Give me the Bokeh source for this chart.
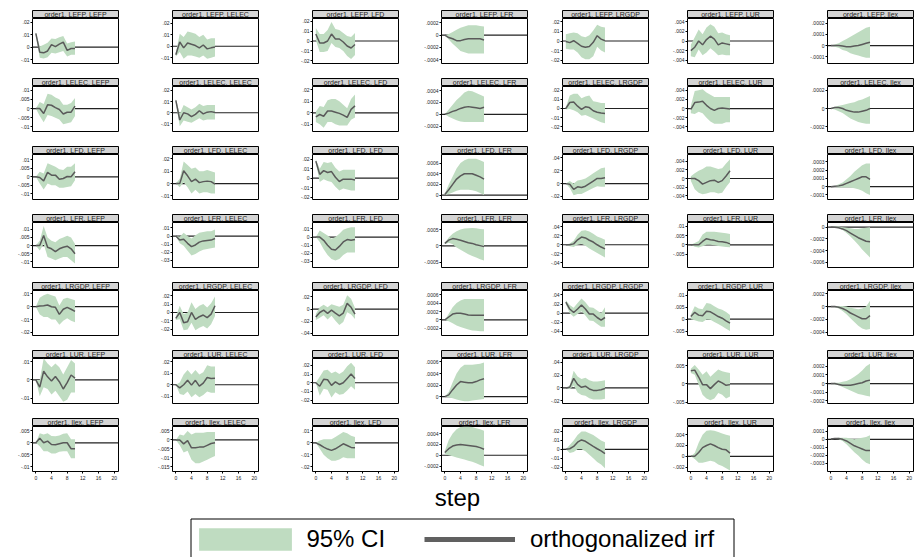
from bokeh.plotting import figure
from bokeh.models import (Range1d, FixedTicker, CustomJSTickFormatter, Span, Label,
                          Legend, LegendItem, BoxAnnotation)
from bokeh.layouts import row, column
from bokeh.embed import file_html
from bokeh.resources import INLINE

# ---------------- data ----------------
variables = ["LEFP", "LELEC", "LFD", "LFR", "LRGDP", "LUR", "llex"]
irf_name = "order1"
steps = list(range(11))
x_ticks = [0, 4, 8, 12, 16, 20]

# impulse LEFP -> responses (LEFP, LELEC, LFD, LFR, LRGDP, LUR, llex)
irf_LEFP = [
    [.011, -.004, -.0045, -.003, .002, .0005, .0025, .004, -.0025, -.001, -.001],
    [-.0074, .0037, -.0014, .0029, .0017, .0006, -.0014, .0011, -.0023, -.0014, -.0006],
    [.007, -.002, -.002, 0, .007, .002, .002, -.001, -.005, -.007, -.0035],
    [0, -.00004, -.00006, -.00009, -.00009, -.00007, -.00006, -.00006, -.00006, -.00006, -.00008],
    [-.0005, -.0017, .0003, -.0024, -.0055, -.0065, -.0058, -.0014, .0055, .002, .0003],
    [-.002, -.0013, 0, -.0008, .0003, .001, .0004, -.0008, -.0004, -.0006, -.0008],
    [0, 0, 0, -.000005, -.00001, -.00001, -.000005, 0, .00001, .00002, .00003],
]
lo_LEFP = [
    [.010, -.0085, -.009, -.008, -.0045, -.005, -.004, -.003, -.0075, -.006, -.006],
    [-.009, -.005, -.011, -.008, -.008, -.009, -.010, -.008, -.011, -.010, -.009],
    [.001, -.011, -.011, -.010, -.002, -.006, -.007, -.010, -.015, -.018, -.014],
    [0, -.00007, -.00014, -.0002, -.00026, -.00028, -.0003, -.0003, -.0003, -.0003, -.0003],
    [-.008, -.009, -.009, -.012, -.017, -.019, -.019, -.016, -.006, -.010, -.012],
    [-.0032, -.0034, -.0018, -.003, -.0024, -.0015, -.0022, -.003, -.0028, -.003, -.003],
    [0, -.00001, -.00002, -.00004, -.00005, -.00007, -.00008, -.00009, -.0001, -.00011, -.00011],
]
hi_LEFP = [
    [.012, .0005, .002, .0035, .007, .0065, .008, .009, .003, .004, .0045],
    [-.006, .011, .008, .013, .012, .011, .008, .010, .006, .007, .007],
    [.013, .007, .007, .011, .019, .012, .011, .008, .005, .004, .008],
    [0, .00002, .00005, .00009, .00012, .00014, .00016, .00016, .00016, .00015, .00014],
    [.007, .008, .009, .008, .005, .004, .006, .011, .017, .015, .014],
    [-.0008, .0008, .0024, .0014, .0028, .0035, .003, .0016, .0018, .0014, .0012],
    [0, .00001, .00002, .00004, .00006, .00008, .0001, .00012, .00014, .00016, .00017],
]

irf_LELEC = [
    [0, 0, -.0027, .002, .0018, .0005, -.0005, -.003, -.002, -.002, .0013],
    [.011, -.0065, 0, -.001, -.0035, -.0015, .0018, -.001, .0005, .001, .0003],
    [-.0035, -.0015, -.003, .0015, .0015, .0005, -.0005, -.002, -.004, .003, .006],
    [0, .00002, .00005, .00007, .0001, .00012, .00013, .00012, .00011, .0001, .00012],
    [0, .0065, .007, .0025, -.001, .0018, .001, -.0025, -.004, -.005, -.0055],
    [-.0002, .0013, .0014, .0016, .0007, 0, -.0004, 0, .0001, 0, -.0001],
    [0, .00001, .00001, 0, -.00002, -.00003, -.00004, -.00004, -.00003, -.00002, 0],
]
lo_LELEC = [
    [0, -.004, -.0075, -.0035, -.004, -.005, -.006, -.0085, -.008, -.0075, -.004],
    [.0095, -.012, -.007, -.008, -.009, -.007, -.005, -.007, -.006, -.006, -.006],
    [-.008, -.010, -.013, -.008, -.008, -.010, -.011, -.011, -.011, -.006, -.004],
    [0, -.00004, -.00007, -.0001, -.00012, -.00013, -.00013, -.00013, -.00013, -.00013, -.00013],
    [-.001, -.0005, -.002, -.004, -.008, -.007, -.009, -.011, -.013, -.015, -.016],
    [-.001, -.0012, -.0007, -.001, -.002, -.0028, -.0033, -.0033, -.0033, -.003, -.003],
    [0, -.00001, -.00003, -.00005, -.00008, -.00011, -.00013, -.00015, -.00016, -.00017, -.00017],
]
hi_LELEC = [
    [0, .0035, .0025, .008, .0075, .006, .005, .002, .002, .003, .0058],
    [.0125, -.001, .007, .005, .003, .005, .008, .006, .007, .007, .007],
    [.001, .006, .005, .011, .012, .012, .010, .007, .004, .012, .016],
    [0, .00008, .00016, .00024, .0003, .00037, .0004, .00039, .00036, .00033, .0003],
    [.001, .014, .016, .016, .011, .013, .014, .008, .007, .006, .006],
    [.0006, .0038, .004, .0042, .0035, .003, .0025, .0025, .0025, .0025, .0025],
    [0, .00002, .00003, .00004, .00005, .00006, .00007, .00009, .0001, .00012, .00014],
]

irf_LFD = [
    [0, -.0004, -.0024, .0026, .001, .001, -.0014, -.001, .0002, 0, .003],
    [0, 0, .0104, .0063, .0016, .0036, .0008, .0016, .002, .0016, -.0005],
    [.018, .004, .008, .006, .007, .001, -.0035, -.001, -.001, -.001, -.002],
    [.00001, .0001, .0002, .0003, .00036, .0004, .0004, .0004, .00037, .00034, .0003],
    [0, -.001, -.009, -.005, -.006, -.004, 0, .004, .008, .008, .009],
    [0, 0, -.0005, -.0013, -.0009, -.0005, -.0004, -.0009, -.0005, .0006, .0018],
    [0, .000005, .00001, .00002, .00004, .00006, .00008, .0001, .00012, .00012, .00009],
]
lo_LFD = [
    [0, -.004, -.0075, -.004, -.005, -.005, -.0065, -.0065, -.006, -.0055, -.002],
    [0, -.003, .001, -.003, -.008, -.005, -.008, -.007, -.007, -.008, -.008],
    [.016, -.004, -.001, -.003, -.004, -.009, -.013, -.011, -.012, -.013, -.013],
    [0, .00002, .00005, .00008, .0001, .0001, .0001, .00009, .00007, .00004, 0],
    [0, -.007, -.018, -.016, -.016, -.013, -.010, -.007, -.004, -.005, -.005],
    [-.0005, -.0025, -.0033, -.0037, -.0035, -.0032, -.0032, -.0035, -.0033, -.002, -.0008],
    [0, 0, -.00001, -.00001, -.00001, -.00001, -.00002, -.00003, -.00005, -.00008, -.0001],
]
hi_LFD = [
    [0, .003, .002, .008, .007, .006, .0045, .004, .006, .006, .008],
    [0, .004, .018, .015, .012, .013, .010, .010, .011, .010, .009],
    [.020, .010, .017, .016, .017, .011, .007, .009, .009, .009, .009],
    [.00003, .0002, .00035, .0005, .0006, .00065, .00068, .00068, .00068, .00065, .00062],
    [0, .004, .0, .005, .006, .008, .012, .016, .020, .024, .025],
    [.0005, .0012, .0018, .0022, .0028, .0028, .0025, .0022, .0024, .0035, .0045],
    [0, .00001, .00003, .00005, .00009, .00013, .00018, .00022, .00026, .00028, .00028],
]

irf_LFR = [
    [0, 0, .0062, -.001, -.002, -.0037, -.002, -.001, -.0004, -.002, -.005],
    [0, -.005, -.004, -.009, -.013, -.011, -.0075, -.006, -.0055, -.005, -.003],
    [0, 0, -.004, -.01, -.015, -.016, -.0115, -.006, -.003, -.004, -.003],
    [.00008, .00018, .00023, .00021, .00018, .00014, .0001, .00008, .00004, .00001, -.00002],
    [0, 0, .002, .011, .017, .015, .01, .006, 0, -.005, -.009],
    [0, 0, 0, .0018, .0033, .0027, .0024, .0018, .0016, .0013, .0005],
    [0, 0, -.00001, -.00003, -.00006, -.0001, -.00014, -.00018, -.00021, -.00024, -.00025],
]
lo_LFR = [
    [0, -.003, .001, -.007, -.008, -.009, -.008, -.007, -.007, -.009, -.011],
    [0, -.009, -.012, -.018, -.024, -.022, -.019, -.017, -.016, -.015, -.014],
    [0, -.006, -.015, -.022, -.027, -.029, -.027, -.022, -.019, -.019, -.019],
    [.00005, .0001, .00005, -.00005, -.00012, -.00019, -.00026, -.00031, -.00036, -.00041, -.00045],
    [0, -.003, -.005, .0, .002, -.002, -.008, -.013, -.018, -.023, -.028],
    [0, -.001, -.0015, -.0008, .0, .0, -.0003, -.0006, -.0009, -.0012, -.0013],
    [0, -.00001, -.00002, -.00005, -.0001, -.00016, -.00023, -.0003, -.00038, -.00045, -.00052],
]
hi_LFR = [
    [0, .003, .012, .005, .003, .002, .004, .005, .006, .005, .001],
    [0, -.001, .004, .000, -.003, .001, .004, .005, .006, .006, .008],
    [0, .008, .005, .002, -.002, .0, .004, .009, .011, .012, .012],
    [.0001, .00026, .00038, .00046, .00051, .00054, .00055, .00056, .00055, .00053, .00052],
    [0, .003, .009, .022, .031, .032, .029, .024, .018, .015, .011],
    [0, .001, .002, .0055, .007, .007, .007, .0068, .0065, .0062, .0058],
    [0, .00001, .00001, 0, -.00001, -.00002, -.00003, -.00003, -.00002, -.00001, 0],
]

irf_LRGDP = [
    [0, .0005, .0008, .0013, 0, -.0005, -.006, -.002, -.0005, -.002, -.0037],
    [-.007, 0, -.012, -.011, 0, -.008, -.005, -.003, -.006, -.002, .008],
    [-.013, -.0055, -.0017, -.007, -.0017, -.0065, -.011, -.0065, .0095, .003, -.008],
    [0, .00007, .00014, .00016, .00016, .00014, .00012, .00011, .00011, .00011, .00011],
    [.024, .009, .0015, .009, .018, .009, -.002, -.002, -.0095, -.015, -.0095],
    [.0011, .0029, .0017, .0014, .0033, .0031, .0021, .0011, .0004, -.0007, -.0017],
    [0, 0, -.00001, -.00003, -.00006, -.0001, -.00013, -.00016, -.00019, -.00019, -.00014],
]
lo_LRGDP = [
    [0, -.006, -.008, -.008, -.010, -.010, -.014, -.011, -.009, -.011, -.012],
    [-.009, -.008, -.021, -.020, -.012, -.021, -.018, -.016, -.019, -.014, -.004],
    [-.018, -.014, -.010, -.017, -.011, -.019, -.026, -.021, -.005, -.009, -.016],
    [0, -.00003, -.00008, -.00013, -.00017, -.0002, -.00023, -.00025, -.00026, -.00027, -.00027],
    [.02, .0, -.008, -.002, .004, -.005, -.016, -.017, -.024, -.030, -.030],
    [.0, -.0005, -.001, -.0012, -.0001, -.0003, -.0012, -.002, -.003, -.004, -.005],
    [0, -.00001, -.00003, -.00007, -.00012, -.00018, -.00024, -.0003, -.00034, -.00036, -.00035],
]
hi_LRGDP = [
    [0, .007, .009, .010, .009, .008, .001, .006, .007, .006, .005],
    [-.005, .008, -.002, .000, .012, .004, .008, .010, .006, .011, .019],
    [-.008, .003, .007, .003, .008, .006, .004, .007, .023, .017, .002],
    [0, .00015, .0003, .0004, .00046, .0005, .0005, .0005, .0005, .0005, .0005],
    [.028, .018, .012, .022, .032, .024, .013, .012, .006, .0, .013],
    [.002, .0055, .0045, .0042, .0068, .0065, .0055, .0045, .004, .003, .0018],
    [0, .00001, .00001, .00001, 0, -.00002, -.00003, -.00004, -.00003, 0, .00009],
]

irf_LUR = [
    [0, -.004, .0048, .0017, -.0006, .0019, -.001, -.005, -.0015, .0027, .001],
    [0, -.0027, 0, .0039, -.0003, .0039, -.0012, .0015, .0064, .0055, .0058],
    [0, -.004, .004, .0035, -.003, .001, -.002, 0, .005, .01, .005],
    [0, .00003, .00012, .0002, .00026, .00025, .00024, .00024, .00026, .00029, .00031],
    [0, .001, .015, .0055, .001, .0027, -.0016, -.0038, -.0038, -.0027, -.001],
    [.0036, .0038, .0019, -.0002, -.0002, -.0013, -.0002, .0008, .0003, -.0004, -.0002],
    [0, 0, -.00001, -.00002, -.00002, -.00002, -.00001, 0, .00001, .00003, .00004],
]
lo_LUR = [
    [0, -.009, -.004, -.005, -.008, -.006, -.009, -.012, -.011, -.007, -.007],
    [0, -.008, -.009, -.006, -.011, -.008, -.011, -.009, -.006, -.007, -.007],
    [0, -.015, -.007, -.008, -.017, -.011, -.014, -.013, -.009, -.004, -.008],
    [0, -.00001, -.00003, -.00005, -.00007, -.00008, -.00008, -.00007, -.00006, -.00005, -.00004],
    [0, -.002, .004, -.007, -.011, -.012, -.016, -.018, -.018, -.018, -.017],
    [.003, .0025, -.0002, -.003, -.004, -.0045, -.004, -.0025, -.003, -.004, -.0035],
    [0, -.00001, -.00002, -.00004, -.00006, -.00008, -.0001, -.00012, -.00013, -.00014, -.00015],
]
hi_LUR = [
    [0, .0, .012, .009, .007, .009, .007, .003, .007, .011, .009],
    [0, .002, .009, .013, .009, .013, .009, .011, .017, .016, .016],
    [0, .007, .014, .015, .011, .013, .010, .013, .019, .023, .018],
    [0, .00008, .00025, .0004, .0005, .00055, .00055, .00055, .00056, .00057, .00059],
    [0, .004, .027, .018, .014, .016, .012, .010, .010, .011, .012],
    [.0042, .0052, .004, .0025, .0035, .002, .003, .004, .0035, .0032, .003],
    [0, .00001, .00001, .00002, .00003, .00005, .00008, .00011, .00015, .0002, .00023],
]

irf_llex = [
    [0, .0019, 0, .0007, -.0007, -.0008, -.0004, 0, 0, -.0025, -.0025],
    [0, 0, -.0022, -.0004, -.0044, -.0044, -.004, -.004, -.003, -.002, -.0016],
    [0, -.0016, -.0036, -.0052, -.0063, -.005, -.003, -.0008, -.0022, -.0038, -.0041],
    [.00005, .00012, .00017, .00019, .0002, .00019, .00018, .00017, .00016, .00014, .00011],
    [0, .0007, .0033, .008, .0105, .009, .006, .0033, .0007, -.0018, -.0047],
    [0, 0, .0007, .0016, .002, .0023, .002, .0016, .0013, .0012, .0006],
    [.000005, .00001, .00001, 0, -.00002, -.00005, -.00008, -.0001, -.00012, -.00014, -.00014],
]
lo_llex = [
    [0, -.0015, -.0035, -.0035, -.0045, -.0045, -.0038, -.0035, -.0035, -.0065, -.0065],
    [0, -.003, -.007, -.006, -.011, -.013, -.013, -.012, -.011, -.010, -.009],
    [0, -.005, -.010, -.013, -.015, -.015, -.014, -.012, -.013, -.013, -.013],
    [.00002, 0, -.00002, -.00004, -.00006, -.00008, -.0001, -.00012, -.00015, -.00018, -.00021],
    [0, -.004, -.003, .0, .0, -.002, -.006, -.010, -.014, -.017, -.021],
    [0, -.0005, -.0012, -.0012, -.001, -.0008, -.001, -.0015, -.0018, -.0022, -.0026],
    [0, .000005, 0, -.00002, -.00006, -.00011, -.00016, -.0002, -.00025, -.00029, -.00031],
]
hi_llex = [
    [0, .004, .0035, .004, .0028, .0027, .003, .0038, .004, .0015, .0015],
    [0, .003, .0025, .005, .003, .004, .004, .004, .0045, .0045, .0045],
    [0, .002, .003, .003, .003, .005, .007, .009, .008, .006, .005],
    [.00008, .00028, .0004, .00048, .00052, .00053, .00053, .00052, .0005, .00048, .00045],
    [0, .005, .010, .016, .020, .020, .018, .016, .013, .010, .008],
    [0, .0006, .0025, .004, .0047, .0048, .0047, .0045, .0042, .004, .0038],
    [.00001, .000015, .00002, .00002, .00002, .00001, 0, .00001, .00002, .00003, .00005],
]

# y-axis tick values shown in each panel
yticks_LEFP = [[.02, .01, 0, -.01], [.02, .01, 0, -.01], [.02, .01, 0, -.01, -.02],
               [.0002, 0, -.0002, -.0004], [.02, .01, 0, -.01, -.02],
               [.004, .002, 0, -.002, -.004], [.0002, .0001, 0, -.0001]]
yticks_LELEC = [[.01, .005, 0, -.005, -.01], [.02, .01, 0, -.01], [.02, .01, 0, -.01],
                [.0004, .0002, 0, -.0002], [.02, .01, 0, -.01, -.02],
                [.004, .002, 0, -.002, -.004], [.0002, 0, -.0002]]
yticks_LFD = [[.01, .005, 0, -.005, -.01], [.02, .01, 0, -.01], [.02, .01, 0, -.01, -.02],
              [.0006, .0004, .0002, 0], [.04, .02, 0, -.02],
              [.004, .002, 0, -.002, -.004], [.0003, .0002, .0001, 0, -.0001]]
yticks_LFR = [[.01, .005, 0, -.005, -.01], [.01, 0, -.01, -.02, -.03], [.01, 0, -.01, -.02, -.03],
              [.0005, 0, -.0005], [.04, .02, 0, -.02, -.04],
              [.01, .005, 0, -.005], [0, -.0002, -.0004, -.0006]]
yticks_LRGDP = [[.01, 0, -.01, -.02], [.02, .01, 0, -.01, -.02], [.02, 0, -.02, -.04],
                [.0006, .0004, .0002, 0, -.0002], [.04, .02, 0, -.02, -.04],
                [.01, .005, 0, -.005], [.0002, 0, -.0002, -.0004]]
yticks_LUR = [[.01, 0, -.01], [.02, .01, 0, -.01], [.02, .01, 0, -.01, -.02],
              [.0006, .0004, .0002, 0], [.04, .02, 0, -.02],
              [.005, 0, -.005], [.0002, .0001, 0, -.0001, -.0002]]
yticks_llex = [[.005, 0, -.005, -.01], [.005, 0, -.005, -.01, -.015], [.01, 0, -.01, -.02],
               [.0004, .0002, 0, -.0002], [.02, .01, 0, -.01, -.02],
               [.004, .002, 0, -.002], [.0001, 0, -.0001, -.0002, -.0003]]

# ---------------- layout (axis extents per panel, pixel geometry) ----------------
ylim = {
    "LEFP": [(-.013, .0229), (-.0151, .0243), (-.0226, .0226), (-.000464, .000272),
             (-.0235, .0235), (-.0047, .0047), (-.000162, .000244)],
    "LELEC": [(-.0125, .012), (-.0168, .0235), (-.0163, .0229), (-.00029, .00047),
              (-.025, .0239), (-.005, .0048), (-.000255, .000244)],
    "LFD": [(-.0134, .0132), (-.0129, .0236), (-.0225, .025), (-.000083, .00076),
            (-.0247, .0453), (-.0049, .0056), (-.000155, .00039)],
    "LFR": [(-.0135, .0142), (-.0388, .0167), (-.0375, .018), (-.00067, .00073),
            (-.05, .049), (-.0122, .012), (-.00069, .00008)],
    "LRGDP": [(-.0224, .0126), (-.0272, .026), (-.0433, .0306), (-.00037, .0007),
              (-.0489, .0496), (-.0069, .0121), (-.00045, .00025)],
    "LUR": [(-.013, .0118), (-.0164, .023), (-.024, .028), (-.00012, .00066),
            (-.0243, .046), (-.0054, .007), (-.00023, .00029)],
    "llex": [(-.012, .0068), (-.0176, .0075), (-.024, .0137), (-.0003, .00053),
             (-.0247, .0255), (-.0028, .0055), (-.0004, .00016)],
}
series = {
    "LEFP": (irf_LEFP, lo_LEFP, hi_LEFP, yticks_LEFP),
    "LELEC": (irf_LELEC, lo_LELEC, hi_LELEC, yticks_LELEC),
    "LFD": (irf_LFD, lo_LFD, hi_LFD, yticks_LFD),
    "LFR": (irf_LFR, lo_LFR, hi_LFR, yticks_LFR),
    "LRGDP": (irf_LRGDP, lo_LRGDP, hi_LRGDP, yticks_LRGDP),
    "LUR": (irf_LUR, lo_LUR, hi_LUR, yticks_LUR),
    "llex": (irf_llex, lo_llex, hi_llex, yticks_llex),
}

PLOT_LEFT = [32, 172, 312, 441, 562, 687, 827]
PLOT_W = 86
CELL_START = [0, 119, 259, 399, 528, 649, 774, 914]
STRIP_H = 8
FRAME_H = 45
GAP = 15
PAD_B = 4          # room under each panel for the lowest tick label
TOP = 10
XAXIS_H = 13

FONT = "Liberation Sans"
BAND = "#bfdcc1"
LINE = "#5a5a5a"
STRIP_FILL = "#d4d4d4"

fmt = CustomJSTickFormatter(code="""
if (Math.abs(tick) < 1e-12) return "0";
let s = Math.abs(tick).toFixed(4);
s = s.replace(/0+$/, "").replace(/\\.$/, "").replace(/^0/, "");
return (tick < 0 ? "-" : "") + s;
""")

rows = []
for i, imp in enumerate(variables):
    irfs, los, his, ytk = series[imp]
    last = (i == len(variables) - 1)
    top_b = TOP if i == 0 else GAP - PAD_B
    bot_b = XAXIS_H if last else PAD_B
    cells = []
    for j, resp in enumerate(variables):
        w = CELL_START[j + 1] - CELL_START[j]
        lb = PLOT_LEFT[j] - CELL_START[j]
        rb = w - lb - PLOT_W
        # title strip
        s = figure(width=w, height=STRIP_H + top_b,
                   x_range=Range1d(0, 1), y_range=Range1d(0, 1),
                   x_axis_location=None, y_axis_location=None,
                   min_border_left=lb, min_border_right=rb,
                   min_border_top=top_b, min_border_bottom=0,
                   background_fill_color=STRIP_FILL, outline_line_color="black",
                   toolbar_location=None, output_backend="svg")
        s.grid.visible = False
        s.add_layout(Label(x=0.5, y=0.5, text=f"{irf_name}, {imp}, {resp}",
                           text_align="center", text_baseline="middle",
                           text_font=FONT, text_font_size="7px", text_color="#222222"))
        # plot panel
        yl = ylim[imp][j]
        p = figure(width=w, height=FRAME_H + bot_b,
                   x_range=Range1d(-0.85, 21.1), y_range=Range1d(yl[0], yl[1]),
                   x_axis_location=("below" if last else None), y_axis_location="left",
                   min_border_left=lb, min_border_right=rb, min_border_top=0,
                   min_border_bottom=bot_b,
                   outline_line_color="black", outline_line_width=1,
                   background_fill_color="white",
                   toolbar_location=None, output_backend="svg")
        p.grid.visible = False
        p.add_layout(Span(location=0, dimension="width", line_color="#222222",
                          line_width=1.2, level="underlay"))
        p.varea(x=steps, y1=los[j], y2=his[j], fill_color=BAND, fill_alpha=1)
        p.line(x=steps, y=irfs[j], line_color=LINE, line_width=1.5)
        ya = p.yaxis[0]
        ya.ticker = FixedTicker(ticks=ytk[j])
        ya.formatter = fmt
        ya.axis_line_color = None
        ya.major_tick_in = 0
        ya.major_tick_out = 2
        ya.minor_tick_line_color = None
        ya.major_label_standoff = 1
        ya.major_label_text_font = FONT
        ya.major_label_text_font_size = "5px"
        ya.major_label_text_color = "#222222"
        if last:
            xa = p.xaxis[0]
            xa.ticker = FixedTicker(ticks=x_ticks)
            xa.axis_line_color = None
            xa.major_tick_in = 0
            xa.major_tick_out = 2
            xa.minor_tick_line_color = None
            xa.major_label_standoff = 2
            xa.major_label_text_font = FONT
            xa.major_label_text_font_size = "5px"
            xa.major_label_text_color = "#222222"
        cells.append(column(s, p, spacing=0))
    rows.append(row(*cells, spacing=0))

# bottom: axis title and legend
used = TOP + 7 * (STRIP_H + FRAME_H) + 6 * GAP + XAXIS_H
bh = 557 - used
b = figure(width=914, height=bh, x_range=Range1d(0, 914), y_range=Range1d(0, bh),
           x_axis_location=None, y_axis_location=None, min_border=0,
           outline_line_color=None, toolbar_location=None, output_backend="svg")
b.grid.visible = False
b.add_layout(Label(x=457, y=bh - 13, text="step", text_align="center",
                   text_baseline="alphabetic", text_font=FONT, text_font_size="24px",
                   text_color="black"))
# legend frame
b.add_layout(BoxAnnotation(left=190.5, right=733.5, bottom=-6, top=38.5,
                           fill_alpha=0, line_color="black", line_width=1,
                           line_alpha=1))
# legend proxies (hidden renderers carrying the legend styles)
r_band = b.varea(x=steps, y1=lo_LEFP[0], y2=hi_LEFP[0], fill_color=BAND, fill_alpha=1,
                 visible=False)
r_line = b.line(x=steps, y=irf_LEFP[0], line_color="#606060", line_width=5, visible=False)
common = dict(orientation="horizontal", glyph_height=28, label_height=28, padding=0,
              margin=0, border_line_color=None, background_fill_alpha=0,
              inactive_fill_alpha=0, label_text_font=FONT, label_text_font_size="24px",
              label_text_color="black")
leg1 = Legend(items=[LegendItem(label="95% CI", renderers=[r_band])],
              location=(187.4, 3.8), glyph_width=116, label_standoff=3, **common)
leg2 = Legend(items=[LegendItem(label="orthogonalized irf", renderers=[r_line])],
              location=(424, 3.8), glyph_width=91, label_standoff=15, **common)
b.add_layout(leg1)
b.add_layout(leg2)

layout = column(*rows, b, spacing=0)
open("out.html", "w").write(file_html(layout, INLINE))
